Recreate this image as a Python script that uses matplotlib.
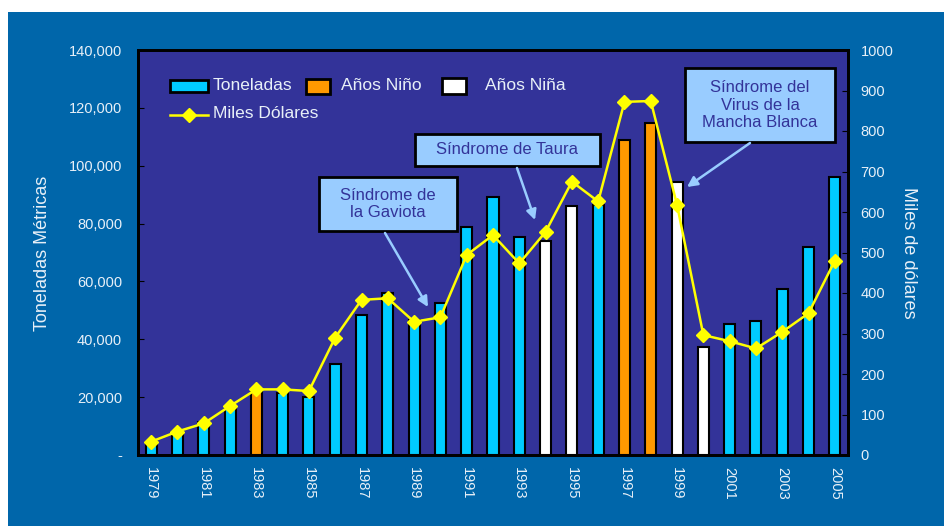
import matplotlib.pyplot as plt
import numpy as np
from matplotlib.patches import Rectangle
from matplotlib.lines import Line2D
from matplotlib.ticker import FuncFormatter

plt.rcParams['font.family'] = ['Liberation Sans', 'DejaVu Sans']

years = list(range(1979, 2006))

# Toneladas métricas por año
toneladas = [4600, 8000, 11500, 16700, 21900, 21300, 20100, 31300, 48400, 55900,
             46600, 52400, 78700, 89300, 75200, 74100, 86200, 86400, 108900, 114700,
             94500, 37400, 45300, 46300, 57300, 71800, 96200]

# Miles de dólares por año
miles_dolares = [33, 58, 78, 121, 162, 162, 158, 290, 383, 387,
                 329, 340, 494, 543, 473, 551, 675, 626, 872, 874,
                 617, 296, 281, 263, 304, 350, 480]

# tipo de año: 'n' normal, 'o' Niño, 'a' Niña
tipo = ['n', 'n', 'n', 'n', 'o', 'n', 'n', 'n', 'n', 'n',
        'n', 'n', 'n', 'n', 'n', 'a', 'a', 'n', 'o', 'o',
        'a', 'a', 'n', 'n', 'n', 'n', 'n']

colores = {'n': '#00CCFF', 'o': '#FF9900', 'a': '#FFFFFF'}

bg_outer = '#0066AA'
bg_plot = '#333399'
txt = '#E8F0F8'
amarillo = '#FFFF00'
celeste = '#99CCFF'

fig = plt.figure(figsize=(9.44, 5.26), dpi=100, facecolor='white')
fig.patches.append(Rectangle((8 / 944, 0), 1, (526 - 12) / 526, transform=fig.transFigure,
                             facecolor=bg_outer, edgecolor='none', zorder=-10))

ax = fig.add_axes([138 / 944, 1 - 455 / 526, 710 / 944, 405 / 526])
ax.set_facecolor(bg_plot)
x = np.arange(len(years))
ax.bar(x, toneladas, width=0.42, color=[colores[t] for t in tipo],
       edgecolor='black', linewidth=1.5, zorder=2)
ax.set_xlim(-0.5, len(years) - 0.5)
ax.set_ylim(0, 140000)
ax.set_yticks(np.arange(0, 140001, 20000))
ax.yaxis.set_major_formatter(FuncFormatter(lambda v, p: '-' if v == 0 else f'{v:,.0f}'))
ax.set_xticks(x[::2])
ax.set_xticklabels([str(y) for y in years[::2]], rotation=-90)
ax.tick_params(axis='x', length=0, pad=8.5, labelsize=10.5, colors=txt)
ax.tick_params(axis='y', direction='in', length=4, color='black', labelsize=10.5,
               labelcolor=txt, pad=11.5)
for s in ax.spines.values():
    s.set_color('black')
    s.set_linewidth(2)

ax2 = ax.twinx()
ax2.plot(x, miles_dolares, color=amarillo, linewidth=1.8, marker='D', markersize=7,
         markerfacecolor=amarillo, markeredgecolor=amarillo, zorder=3)
ax2.set_ylim(0, 1000)
ax2.set_yticks(np.arange(0, 1001, 100))
ax2.tick_params(axis='y', direction='in', length=4, color='black', labelsize=10.5,
                labelcolor=txt, pad=9)
for s in ax2.spines.values():
    s.set_color('black')
    s.set_linewidth(2)

fig.text(42.5 / 944, 1 - 253 / 526, 'Toneladas Métricas', rotation=90, ha='center',
         va='center', color=txt, fontsize=13)
fig.text(908 / 944, 1 - 253 / 526, 'Miles de dólares', rotation=270, ha='center',
         va='center', color=txt, fontsize=13)

# leyenda (coordenadas de ejes)
def ax_xy(px, py):
    return (px - 138) / 710, (455 - py) / 405

ley_items = [('Toneladas', colores['n'], 170, 208, 12, 213),
             ('Años Niño', colores['o'], 306, 330, 15, 341),
             ('Años Niña', colores['a'], 442, 466, 16, 485)]
for lab, col, x0, x1, hgt, tx in ley_items:
    a0, b0 = ax_xy(x0, 86 + hgt / 2)
    a1, _ = ax_xy(x1, 0)
    ax2.add_patch(Rectangle((a0, b0), a1 - a0, hgt / 405, transform=ax2.transAxes,
                            facecolor=col, edgecolor='black', linewidth=2, zorder=6))
    tx_a, ty_a = ax_xy(tx, 85)
    ax2.text(tx_a, ty_a, lab, transform=ax2.transAxes, ha='left', va='center',
             fontsize=12.5, color=txt, zorder=6)

la0, lb = ax_xy(170, 115)
la1, _ = ax_xy(208, 115)
ax2.add_line(Line2D([la0, la1], [lb, lb], transform=ax2.transAxes, color=amarillo,
                    linewidth=1.8, zorder=6))
ax2.add_line(Line2D([(la0 + la1) / 2], [lb], transform=ax2.transAxes, color=amarillo,
                    marker='D', markersize=7, zorder=6))
tx_a, ty_a = ax_xy(213, 114)
ax2.text(tx_a, ty_a, 'Miles Dólares', transform=ax2.transAxes, ha='left', va='center',
         fontsize=12.5, color=txt, zorder=6)

# anotaciones: texto, caja (px), inicio flecha, punta flecha
notas = [('Síndrome de\nla Gaviota', (319, 177, 457, 231), (385, 233), (428, 307)),
         ('Síndrome de Taura', (415, 134, 600, 166), (517, 168), (535, 220)),
         ('Síndrome del\nVirus de la\nMancha Blanca', (685, 68, 835, 142), (750, 143), (687, 187))]
for texto, (bx0, by0, bx1, by1), ini, fin in notas:
    a0, b0 = ax_xy(bx0, by1)
    a1, b1 = ax_xy(bx1, by0)
    ax2.add_patch(Rectangle((a0, b0), a1 - a0, b1 - b0, transform=ax2.transAxes,
                            facecolor=celeste, edgecolor='black', linewidth=2, zorder=7))
    ax2.text((a0 + a1) / 2, (b0 + b1) / 2, texto, transform=ax2.transAxes, ha='center',
             va='center', fontsize=12, color=bg_plot, zorder=8, linespacing=1.2)
    ax2.annotate('', xy=ax_xy(*fin), xytext=ax_xy(*ini), xycoords='axes fraction',
                 textcoords='axes fraction',
                 arrowprops=dict(arrowstyle='-|>', color=celeste, linewidth=1.8,
                                 mutation_scale=15, shrinkA=0, shrinkB=0), zorder=7)

fig.savefig('out.png', dpi=100, facecolor=fig.get_facecolor())
